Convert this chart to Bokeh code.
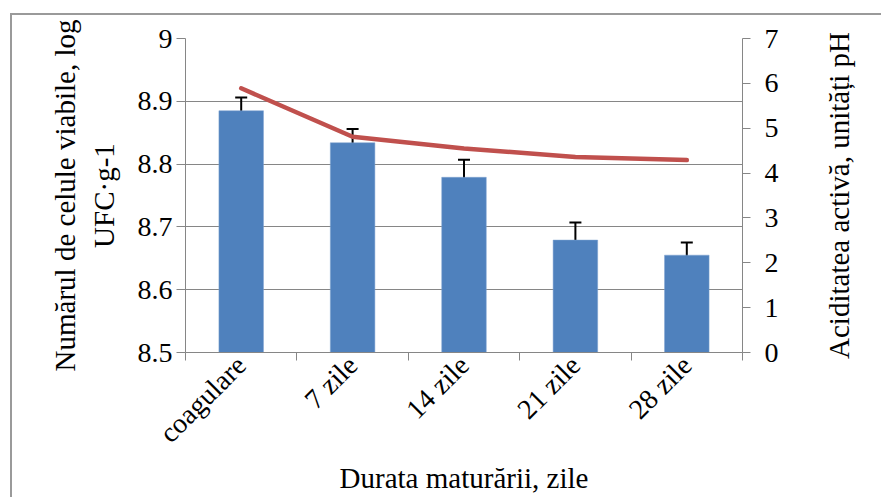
from bokeh.plotting import figure
from bokeh.models import Range1d, LinearAxis, FixedTicker, Whisker, TeeHead, ColumnDataSource
from bokeh.layouts import row
from bokeh.embed import file_html
from bokeh.resources import INLINE
import math

categories = ["coagulare", "7 zile", "14 zile", "21 zile", "28 zile"]
viable_log = [8.885, 8.834, 8.779, 8.679, 8.655]
viable_err = [0.021, 0.022, 0.028, 0.028, 0.020]
ph_values = [5.89, 4.81, 4.55, 4.36, 4.29]
left_ticks = [8.5, 8.6, 8.7, 8.8, 8.9, 9.0]
right_ticks = [0, 1, 2, 3, 4, 5, 6, 7]
right_title = "Aciditatea activă, unități pH"

FONT = "Liberation Serif"
GRAY = "#868686"

centers = [i + 0.5 for i in range(len(categories))]
bounds = [float(i) for i in range(len(categories) + 1)]

src = ColumnDataSource(dict(
    x=centers, y=viable_log,
    upper=[v + e for v, e in zip(viable_log, viable_err)],
    lower=[v - e for v, e in zip(viable_log, viable_err)],
    ph=ph_values,
))

p = figure(width=800, height=482, output_backend="svg", toolbar_location=None,
           x_range=Range1d(0, len(categories)), y_range=Range1d(8.5, 9.0),
           min_border_left=173, min_border_right=70, min_border_top=23, min_border_bottom=144,
           x_axis_location=None, y_axis_location=None)
p.outline_line_color = None
p.background_fill_color = "white"
p.border_fill_color = "white"
p.extra_y_ranges = {"ph": Range1d(0, 7)}

p.xgrid.visible = False
p.ygrid.ticker = FixedTicker(ticks=left_ticks)
p.ygrid.grid_line_color = GRAY
p.ygrid.grid_line_width = 1

p.vbar(x="x", top="y", bottom=8.5, width=0.4, source=src, fill_color="#4F81BD",
       line_color="#7FA3D0", line_width=0.5)

w = Whisker(base="x", upper="upper", lower="lower", source=src,
            line_color="black", line_width=2,
            upper_head=TeeHead(size=12, line_color="black", line_width=2),
            lower_head=TeeHead(size=12, line_color="black", line_width=2))
p.add_layout(w)

p.line("x", "ph", source=src, y_range_name="ph", line_color="#C0504D", line_width=4.5,
       line_join="round", line_cap="round")

xaxis = LinearAxis(ticker=FixedTicker(ticks=centers, minor_ticks=bounds),
                   major_label_overrides={c: n for c, n in zip(centers, categories)})
xaxis.major_tick_line_color = None
xaxis.minor_tick_line_color = GRAY
xaxis.minor_tick_out = 8
xaxis.minor_tick_in = 0
xaxis.axis_line_color = GRAY
xaxis.major_label_orientation = math.pi / 4
xaxis.major_label_text_font = FONT
xaxis.major_label_text_font_size = "28px"
xaxis.major_label_text_color = "black"
xaxis.major_label_standoff = 0
xaxis.axis_label = "Durata maturării, zile"
xaxis.axis_label_text_font = FONT
xaxis.axis_label_text_font_size = "29px"
xaxis.axis_label_text_font_style = "normal"
xaxis.axis_label_text_color = "black"
xaxis.axis_label_standoff = 0
p.add_layout(xaxis, "below")

yaxis = LinearAxis(ticker=FixedTicker(ticks=left_ticks),
                   major_label_overrides={t: f"{t:g}" for t in left_ticks})
yaxis.axis_line_color = GRAY
yaxis.major_tick_line_color = GRAY
yaxis.major_tick_out = 9
yaxis.major_tick_in = 0
yaxis.minor_tick_line_color = None
yaxis.major_label_text_font = FONT
yaxis.major_label_text_font_size = "28px"
yaxis.major_label_text_color = "black"
yaxis.major_label_standoff = 4
yaxis.axis_label = "Numărul de celule viabile, log\nUFC·g-1"
yaxis.axis_label_text_font = FONT
yaxis.axis_label_text_font_size = "29px"
yaxis.axis_label_text_font_style = "normal"
yaxis.axis_label_text_color = "black"
yaxis.axis_label_standoff = 15
p.add_layout(yaxis, "left")

raxis = LinearAxis(y_range_name="ph", ticker=FixedTicker(ticks=right_ticks))
raxis.axis_line_color = GRAY
raxis.major_tick_line_color = GRAY
raxis.major_tick_out = 8
raxis.major_tick_in = 0
raxis.minor_tick_line_color = None
raxis.major_label_text_font = FONT
raxis.major_label_text_font_size = "28px"
raxis.major_label_text_color = "black"
raxis.major_label_standoff = 14
p.add_layout(raxis, "right")

# right title panel: an axis label of a narrow companion figure (reads bottom-to-top)
q = figure(width=69, height=482, output_backend="svg", toolbar_location=None,
           x_range=Range1d(0, 1), y_range=Range1d(0, 1),
           min_border_left=42, min_border_right=0, min_border_top=23, min_border_bottom=144,
           x_axis_location=None, y_axis_location=None)
q.outline_line_color = None
q.xgrid.visible = False
q.ygrid.visible = False
tax = LinearAxis(ticker=FixedTicker(ticks=[]))
tax.axis_line_color = None
tax.major_tick_line_color = None
tax.minor_tick_line_color = None
tax.major_label_text_font_size = "0px"
tax.major_label_standoff = 0
tax.major_tick_out = 0
tax.axis_label = right_title
tax.axis_label_text_font = FONT
tax.axis_label_text_font_size = "29px"
tax.axis_label_text_font_style = "normal"
tax.axis_label_text_color = "black"
tax.axis_label_standoff = 0
q.add_layout(tax, "left")

layout = row(p, q)
layout.styles = {"border-left": "2px solid #9a9a9a", "border-top": "2px solid #9a9a9a",
                 "margin-left": "10px", "margin-top": "13px"}

open("out.html", "w").write(file_html(layout, INLINE))
